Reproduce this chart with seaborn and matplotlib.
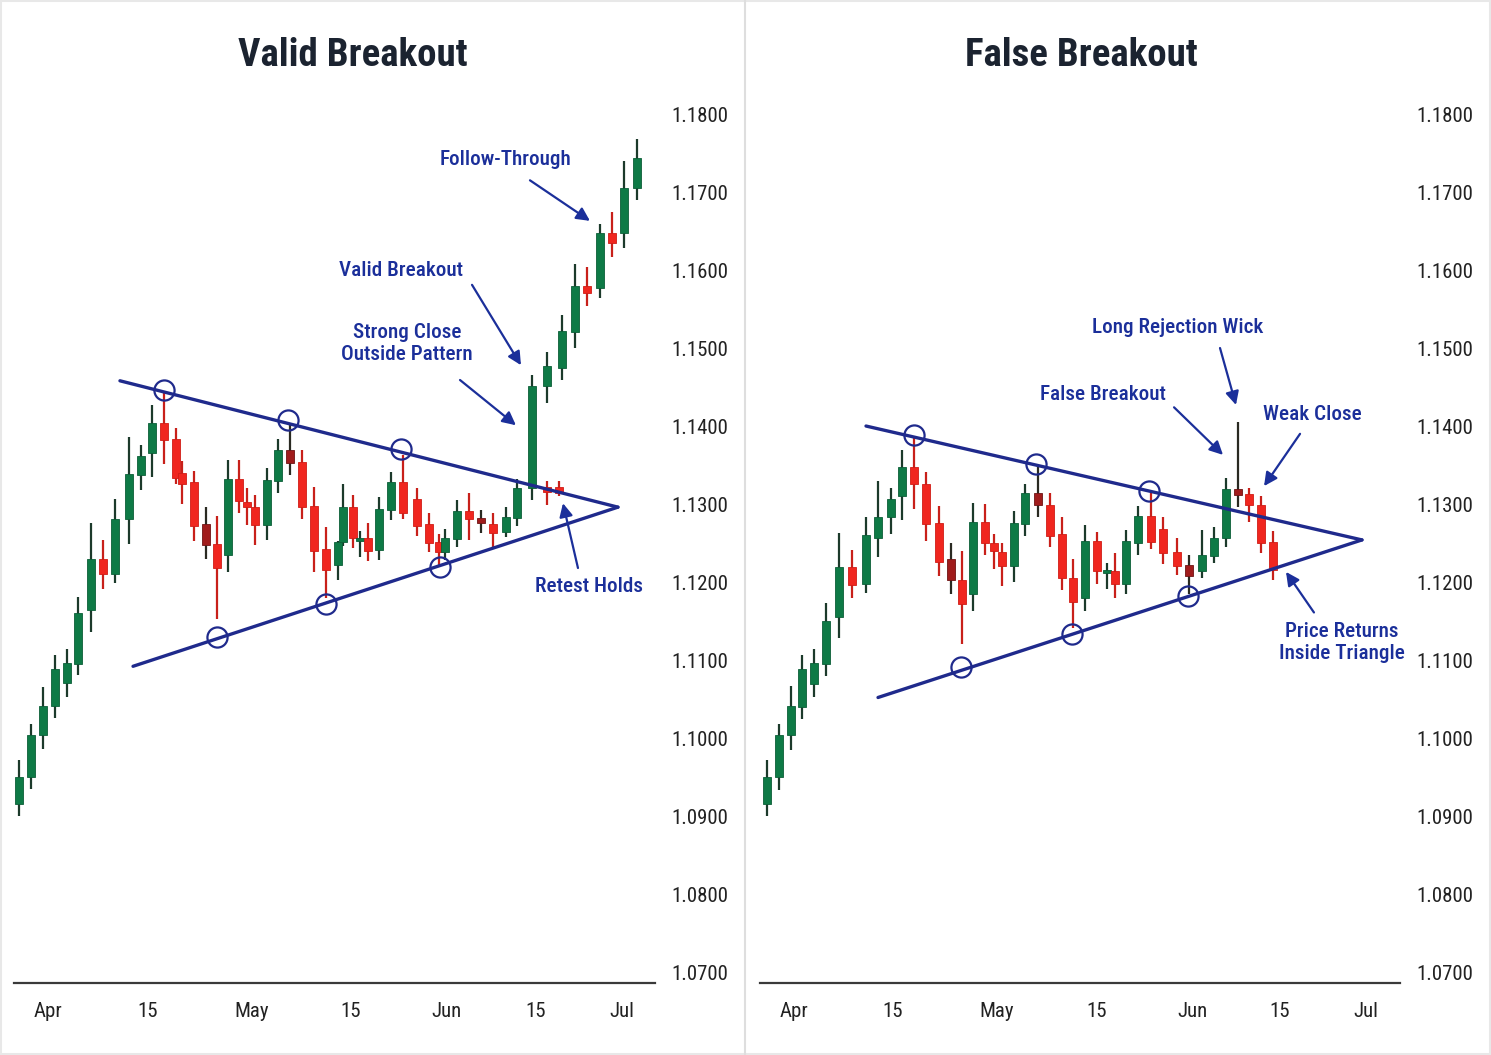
import matplotlib
matplotlib.use("Agg")
import matplotlib.pyplot as plt
from matplotlib import font_manager as fm
import seaborn as sns
import pandas as pd

# ---------------- data ----------------
# Left panel (valid breakout): session index, open, high, low, close
L_t = [0.0, 1.03, 2.05, 3.03, 4.0, 4.97, 6.0, 7.03, 8.03, 9.17, 10.17, 11.13, 12.13, 13.11, 13.58,
       14.63, 15.58, 16.53, 17.44, 18.33, 19.03, 19.69, 20.69, 21.61, 22.61, 23.61, 24.61, 25.61,
       26.63, 27.0, 27.83, 28.44, 29.08, 30.05, 31.03, 32.03, 33.19, 34.19, 35.03, 35.53, 36.53,
       37.53, 38.53, 39.53, 40.61, 41.53, 42.78, 44.03, 45.03, 44.03, 45.28, 46.36, 47.36, 48.44,
       49.44, 50.44, 51.53]
L_open = [1.0915, 1.0950, 1.1004, 1.1041, 1.1070, 1.1095, 1.1164, 1.1229, 1.1210, 1.1281, 1.1337,
          1.1365, 1.1404, 1.1383, 1.1340, 1.1328, 1.1274, 1.1249, 1.1235, 1.1332, 1.1302, 1.1296,
          1.1273, 1.1329, 1.1369, 1.1354, 1.1297, 1.1242, 1.1222, 1.1251, 1.1296, 1.1253, 1.1256,
          1.1241, 1.1293, 1.1328, 1.1306, 1.1274, 1.1251, 1.1238, 1.1255, 1.1291, 1.1282, 1.1274,
          1.1264, 1.1282, 1.1320, 1.1322, 1.1322, 1.1451, 1.1474, 1.1520, 1.1579, 1.1577, 1.1647,
          1.1647, 1.1705]
L_high = [1.0972, 1.1018, 1.1065, 1.1106, 1.1114, 1.1181, 1.1276, 1.1254, 1.1306, 1.1386, 1.1376,
          1.1427, 1.1442, 1.1397, 1.1355, 1.1342, 1.1296, 1.1285, 1.1356, 1.1356, 1.1320, 1.1311,
          1.1346, 1.1383, 1.1404, 1.1369, 1.1322, 1.1270, 1.1253, 1.1326, 1.1311, 1.1266, 1.1276,
          1.1309, 1.1341, 1.1363, 1.1320, 1.1288, 1.1261, 1.1268, 1.1305, 1.1314, 1.1293, 1.1288,
          1.1296, 1.1332, 1.1466, 1.1329, 1.1329, 1.1495, 1.1542, 1.1608, 1.1604, 1.1659, 1.1674,
          1.1740, 1.1768]
L_low = [1.0900, 1.0935, 1.0986, 1.1026, 1.1052, 1.1081, 1.1136, 1.1191, 1.1199, 1.1249, 1.1318,
         1.1335, 1.1351, 1.1326, 1.1300, 1.1252, 1.1229, 1.1152, 1.1213, 1.1288, 1.1273, 1.1247,
         1.1254, 1.1314, 1.1337, 1.1281, 1.1213, 1.1180, 1.1202, 1.1246, 1.1244, 1.1232, 1.1227,
         1.1228, 1.1279, 1.1281, 1.1259, 1.1238, 1.1222, 1.1228, 1.1245, 1.1254, 1.1263, 1.1243,
         1.1258, 1.1272, 1.1305, 1.1299, 1.1310, 1.1429, 1.1459, 1.1500, 1.1554, 1.1564, 1.1617,
         1.1628, 1.1690]
L_close = [1.0950, 1.1004, 1.1041, 1.1088, 1.1096, 1.1160, 1.1229, 1.1210, 1.1281, 1.1338, 1.1361,
           1.1404, 1.1382, 1.1333, 1.1326, 1.1272, 1.1247, 1.1218, 1.1332, 1.1304, 1.1296, 1.1273,
           1.1331, 1.1369, 1.1352, 1.1296, 1.1240, 1.1215, 1.1251, 1.1296, 1.1257, 1.1256, 1.1240,
           1.1294, 1.1328, 1.1288, 1.1272, 1.1250, 1.1238, 1.1256, 1.1291, 1.1281, 1.1276, 1.1263,
           1.1283, 1.1320, 1.1451, 1.1315, 1.1314, 1.1477, 1.1522, 1.1579, 1.1570, 1.1647, 1.1635,
           1.1705, 1.1743]

# Right panel (false breakout)
R_t = [0.08, 1.11, 2.08, 3.05, 4.05, 5.03, 6.13, 7.22, 8.33, 9.36, 10.42, 11.38, 12.36, 13.36, 14.44,
       15.42, 16.38, 17.3, 18.3, 19.05, 19.72, 20.69, 21.61, 22.67, 23.69, 24.67, 25.63, 26.61, 27.63,
       28.42, 29.11, 30.03, 31.0, 32.11, 33.13, 34.29, 35.28, 36.33, 37.36, 38.36, 39.33, 40.28,
       41.28, 42.25]
R_open = [1.0916, 1.0950, 1.1004, 1.1040, 1.1069, 1.1095, 1.1155, 1.1219, 1.1197, 1.1257, 1.1283,
          1.1310, 1.1347, 1.1326, 1.1276, 1.1229, 1.1202, 1.1185, 1.1277, 1.1250, 1.1239, 1.1220,
          1.1275, 1.1314, 1.1299, 1.1261, 1.1205, 1.1179, 1.1252, 1.1212, 1.1214, 1.1198, 1.1250,
          1.1285, 1.1268, 1.1239, 1.1222, 1.1214, 1.1233, 1.1256, 1.1319, 1.1313, 1.1299, 1.1251]
R_high = [1.0972, 1.1018, 1.1067, 1.1106, 1.1114, 1.1173, 1.1263, 1.1241, 1.1283, 1.1330, 1.1320,
          1.1369, 1.1385, 1.1341, 1.1297, 1.1250, 1.1240, 1.1301, 1.1300, 1.1261, 1.1250, 1.1291,
          1.1326, 1.1349, 1.1314, 1.1284, 1.1230, 1.1273, 1.1264, 1.1224, 1.1237, 1.1267, 1.1297,
          1.1314, 1.1284, 1.1256, 1.1235, 1.1267, 1.1271, 1.1333, 1.1405, 1.1320, 1.1310, 1.1266]
R_low = [1.0900, 1.0934, 1.0985, 1.1025, 1.1052, 1.1079, 1.1128, 1.1179, 1.1186, 1.1232, 1.1262,
         1.1279, 1.1294, 1.1253, 1.1208, 1.1185, 1.1120, 1.1163, 1.1235, 1.1217, 1.1195, 1.1200,
         1.1259, 1.1283, 1.1245, 1.1190, 1.1141, 1.1163, 1.1198, 1.1191, 1.1180, 1.1185, 1.1235,
         1.1243, 1.1223, 1.1209, 1.1185, 1.1205, 1.1224, 1.1245, 1.1296, 1.1277, 1.1237, 1.1202]
R_close = [1.0950, 1.1004, 1.1041, 1.1088, 1.1096, 1.1150, 1.1219, 1.1196, 1.1260, 1.1284, 1.1306,
           1.1347, 1.1326, 1.1274, 1.1226, 1.1202, 1.1172, 1.1277, 1.1250, 1.1240, 1.1220, 1.1276,
           1.1314, 1.1299, 1.1259, 1.1205, 1.1174, 1.1252, 1.1214, 1.1215, 1.1198, 1.1252, 1.1285,
           1.1251, 1.1237, 1.1221, 1.1208, 1.1235, 1.1257, 1.1319, 1.1311, 1.1299, 1.1250, 1.1216]
# candles drawn with a dark (wick) shade in the picture
R_dark = [15, 23, 36, 40]
L_dark = [16, 24, 42]

# Triangle trendlines (start, apex)
L_upper_t = [8.44, 49.94]
L_upper_p = [1.1458, 1.1296]
L_lower_t = [9.53, 49.94]
L_lower_p = [1.1092, 1.1296]
R_upper_t = [8.36, 49.69]
R_upper_p = [1.1400, 1.1254]
R_lower_t = [9.36, 49.69]
R_lower_p = [1.1052, 1.1254]

# Touch points (circles)
L_touch_t = [12.11, 22.44, 31.86, 16.53, 25.61, 35.11]
L_touch_p = [1.1446, 1.1408, 1.1370, 1.1129, 1.1172, 1.1219]
R_touch_t = [12.36, 22.53, 31.94, 16.28, 25.53, 35.19]
R_touch_p = [1.1388, 1.1351, 1.1317, 1.1091, 1.1133, 1.1182]

# Annotations: label, label pos (t, p), arrow tail (t, p), arrow head (t, p)
L_notes = [
    ("Follow-Through", (40.61, 1.1742), (42.61, 1.1715), (47.61, 1.1663)),
    ("Valid Breakout", (31.86, 1.1599), (37.78, 1.1581), (41.86, 1.1478)),
    ("Strong Close\nOutside Pattern", (32.36, 1.1506), (36.78, 1.1459), (41.44, 1.1401)),
    ("Retest Holds", (47.53, 1.1194), (46.61, 1.1218), (45.36, 1.1301)),
]
R_notes = [
    ("Long Rejection Wick", (34.36, 1.1526), (37.86, 1.1500), (39.19, 1.1427)),
    ("False Breakout", (28.11, 1.1441), (34.03, 1.1424), (38.11, 1.1363)),
    ("Weak Close", (45.53, 1.1415), (44.53, 1.1390), (41.53, 1.1323)),
    ("Price Returns\nInside Triangle", (48.03, 1.1122), (45.69, 1.1161), (43.36, 1.1213)),
]

y_ticks = [1.07, 1.08, 1.09, 1.10, 1.11, 1.12, 1.13, 1.14, 1.15, 1.16, 1.17, 1.18]
x_labels = ["Apr", "15", "May", "15", "Jun", "15", "Jul"]
L_xticks = [2.44, 10.78, 19.44, 27.69, 35.69, 43.11, 50.28]
R_xticks = [2.36, 10.61, 19.28, 27.61, 35.53, 42.86, 50.03]
titles = ["Valid Breakout", "False Breakout"]

# ---------------- style ----------------
sns.set_theme(style="white")
names = {f.name for f in fm.fontManager.ttflist}
narrow = None
for cand in ["Roboto Condensed", "Liberation Sans Narrow", "DejaVu Sans Condensed", "Roboto", "Liberation Sans"]:
    if cand in names:
        narrow = cand
        break
FAM = [narrow, "DejaVu Sans"] if narrow else ["DejaVu Sans"]
plt.rcParams["font.family"] = FAM

GREEN = "#0e7a46"
GREEN_EDGE = "#0b5e37"
GREEN_WICK = "#1c3a2b"
RED = "#f0261f"
RED_EDGE = "#d01c16"
RED_WICK = "#c8201a"
DARK_RED = "#a01c1c"
DARK_WICK = "#2a2a22"
NAVY_LINE = "#1f2a8c"
NAVY_TEXT = "#1b2f9a"
TICK_COLOR = "#222222"

W, H = 1491, 1055
fig = plt.figure(figsize=(W / 100, H / 100), dpi=100)
fig.patch.set_facecolor("white")


def draw_panel(ax, t, o, h, l, c, dark, up_t, up_p, lo_t, lo_p, tt, tp, notes, xticks, xlim):
    df = pd.DataFrame({"t": t, "open": o, "high": h, "low": l, "close": c})
    df["up"] = df["close"] >= df["open"]
    df["dark"] = [i in dark for i in range(len(df))]
    for _, r in df.iterrows():
        if r["dark"]:
            wc = DARK_WICK
        else:
            wc = GREEN_WICK if r["up"] else RED_WICK
        ax.vlines(r["t"], r["low"], r["high"], color=wc, lw=1.6, zorder=2)
    for _, r in df.iterrows():
        if r["up"]:
            fc, ec = GREEN, GREEN_EDGE
        elif r["dark"]:
            fc, ec = DARK_RED, "#6e1414"
        else:
            fc, ec = RED, RED_EDGE
        bottom = min(r["open"], r["close"])
        height = max(abs(r["close"] - r["open"]), 0.00035)
        ax.bar(r["t"], height, bottom=bottom, width=0.68, color=fc, edgecolor=ec,
               linewidth=0.6, zorder=3)
    # trendlines
    lines = pd.DataFrame({"t": list(up_t) + list(lo_t), "p": list(up_p) + list(lo_p),
                          "line": ["upper"] * len(up_t) + ["lower"] * len(lo_t)})
    sns.lineplot(data=lines, x="t", y="p", units="line", estimator=None, color=NAVY_LINE,
                 lw=2.4, ax=ax, zorder=4, legend=False, sort=False)
    # touch circles
    ax.plot(tt, tp, linestyle="none", marker="o", markersize=14.5, markerfacecolor="none",
            markeredgecolor=NAVY_LINE, markeredgewidth=1.6, zorder=5)
    # annotations
    for label, lpos, tail, head in notes:
        ax.annotate("", xy=head, xytext=tail,
                    arrowprops=dict(arrowstyle="-|>", color=NAVY_TEXT, lw=1.6,
                                    mutation_scale=20, shrinkA=0, shrinkB=0), zorder=6)
        ax.text(lpos[0], lpos[1], label, ha="center", va="center", color=NAVY_TEXT,
                fontsize=15.2, fontweight="medium", linespacing=1.2, zorder=6)
    ax.set_xlim(*xlim)
    ax.set_ylim(1.0686, 1.1900)
    ax.set_yticks(y_ticks)
    ax.set_yticklabels([f"{v:.4f}" for v in y_ticks])
    ax.yaxis.tick_right()
    ax.set_xticks(xticks)
    ax.set_xticklabels(x_labels)
    ax.tick_params(axis="y", length=0, pad=12, labelsize=15, labelcolor=TICK_COLOR)
    ax.tick_params(axis="x", length=0, pad=14, labelsize=15, labelcolor=TICK_COLOR)
    ax.set_xlabel("")
    ax.set_ylabel("")
    for s in ["top", "left", "right"]:
        ax.spines[s].set_visible(False)
    ax.spines["bottom"].set_color("#3a3a3a")
    ax.spines["bottom"].set_linewidth(1.6)
    ax.grid(False)
    ax.set_facecolor("none")


axL = fig.add_axes([14 / W, 72 / H, 641 / W, 947 / H])
axR = fig.add_axes([760 / W, 72 / H, 640 / W, 947 / H])
draw_panel(axL, L_t, L_open, L_high, L_low, L_close, L_dark, L_upper_t, L_upper_p, L_lower_t,
           L_lower_p, L_touch_t, L_touch_p, L_notes, L_xticks, (-0.39, 53.03))
draw_panel(axR, R_t, R_open, R_high, R_low, R_close, R_dark, R_upper_t, R_upper_p, R_lower_t,
           R_lower_p, R_touch_t, R_touch_p, R_notes, R_xticks, (-0.475, 52.86))

fig.text(353 / W, 1 - 55 / H, titles[0], ha="center", va="center", fontsize=28,
         fontweight="bold", color="#1b2330")
fig.text(1081 / W, 1 - 55 / H, titles[1], ha="center", va="center", fontsize=28,
         fontweight="bold", color="#1b2330")

# divider between panels and light frame
fig.add_artist(plt.Line2D([745 / W, 745 / W], [0, 1], transform=fig.transFigure,
                          color="#dedede", lw=1.5))
fig.add_artist(plt.Rectangle((0.001, 0.001), 0.998, 0.998, transform=fig.transFigure,
                             fill=False, edgecolor="#e8e8e8", lw=1.5))

fig.savefig("out.png", dpi=100, facecolor="white")
